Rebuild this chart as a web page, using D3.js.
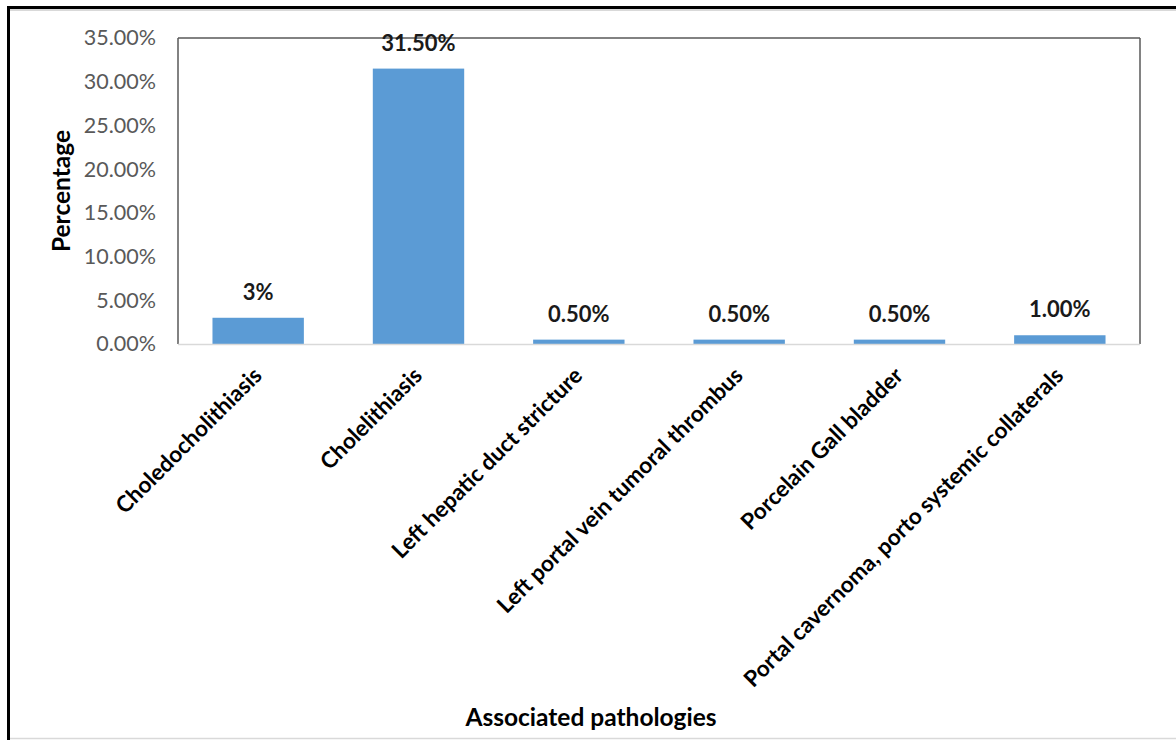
<!DOCTYPE html>
<html>
<head>
<meta charset="utf-8">
<script src="https://cdn.jsdelivr.net/npm/d3@7"></script>
<style>
  html, body { margin: 0; padding: 0; background: #fff; }
  svg { display: block; }
</style>
</head>
<body>
<svg id="chart" width="1176" height="740"></svg>
<script>
const categories = [
  "Choledocholithiasis",
  "Cholelithiasis",
  "Left hepatic duct stricture",
  "Left portal vein tumoral thrombus",
  "Porcelain Gall bladder",
  "Portal cavernoma, porto systemic collaterals"
];
const values = [3.0, 31.5, 0.5, 0.5, 0.5, 1.0];
const valueLabels = ["3%", "31.50%", "0.50%", "0.50%", "0.50%", "1.00%"];
const yTicks = [0, 5, 10, 15, 20, 25, 30, 35];
const yTitle = "Percentage";
const xTitle = "Associated pathologies";

const svg = d3.select("#chart");
const W = 1176, H = 740;
const plot = { left: 178, right: 1140, top: 38, bottom: 344 };

// outer frame
svg.append("line").attr("x1", 8).attr("x2", W).attr("y1", 10).attr("y2", 10)
  .attr("stroke", "#d9d9d9").attr("stroke-width", 2);
svg.append("line").attr("x1", 8).attr("x2", W).attr("y1", 738.5).attr("y2", 738.5)
  .attr("stroke", "#d9d9d9").attr("stroke-width", 1.5);
svg.append("line").attr("x1", 7).attr("x2", W).attr("y1", 7.5).attr("y2", 7.5)
  .attr("stroke", "#000").attr("stroke-width", 3);
svg.append("line").attr("x1", 8.5).attr("x2", 8.5).attr("y1", 6).attr("y2", H)
  .attr("stroke", "#000").attr("stroke-width", 3);

const x = d3.scaleBand().domain(categories).range([plot.left, plot.right]).paddingInner(0.43).paddingOuter(0.215);
const y = d3.scaleLinear().domain([0, 35]).range([plot.bottom, plot.top]);

// plot area frame (top, left, right)
const frame = svg.append("g").attr("stroke", "#595959").attr("stroke-width", 1.5);
frame.append("line").attr("x1", plot.left).attr("x2", plot.right).attr("y1", plot.top).attr("y2", plot.top);
frame.append("line").attr("x1", plot.left).attr("x2", plot.left).attr("y1", plot.top).attr("y2", plot.bottom);
frame.append("line").attr("x1", plot.right).attr("x2", plot.right).attr("y1", plot.top).attr("y2", plot.bottom);

// bars
svg.append("g").selectAll("rect").data(categories).join("rect")
  .attr("x", d => x(d))
  .attr("width", x.bandwidth())
  .attr("y", (d, i) => y(values[i]))
  .attr("height", (d, i) => y(0) - y(values[i]))
  .attr("fill", "#5b9bd5");

// x axis line
svg.append("line").attr("x1", plot.left).attr("x2", plot.right)
  .attr("y1", plot.bottom + 0.5).attr("y2", plot.bottom + 0.5)
  .attr("stroke", "#d9d9d9").attr("stroke-width", 1.5);

// y axis tick labels
const yAxis = d3.axisLeft(y).tickValues(yTicks).tickSize(0).tickPadding(0)
  .tickFormat(d => d.toFixed(2) + "%");
const gy = svg.append("g").attr("transform", `translate(156,0)`).call(yAxis);
gy.select(".domain").remove();
gy.selectAll("text")
  .attr("font-family", "Lato, sans-serif")
  .attr("font-size", 21.5)
  .attr("fill", "#595959");

// data labels
svg.append("g").selectAll("text").data(categories).join("text")
  .attr("x", d => x(d) + x.bandwidth() / 2)
  .attr("y", (d, i) => y(values[i]) - 18)
  .attr("text-anchor", "middle")
  .attr("font-family", "Lato, sans-serif")
  .attr("font-weight", "bold")
  .attr("font-size", 22)
  .attr("fill", "#1a1a1a")
  .text((d, i) => valueLabels[i]);

// x category labels
svg.append("g").selectAll("text").data(categories).join("text")
  .attr("transform", d => `translate(${x(d) + x.bandwidth() / 2 + 5},${plot.bottom + 33}) rotate(-45)`)
  .attr("text-anchor", "end")
  .attr("font-family", "Lato, sans-serif")
  .attr("font-weight", "bold")
  .attr("font-size", 22.5)
  .attr("fill", "#000")
  .text(d => d);

// axis titles
svg.append("text")
  .attr("transform", `translate(70,${(plot.top + plot.bottom) / 2}) rotate(-90)`)
  .attr("text-anchor", "middle")
  .attr("font-family", "Lato, sans-serif")
  .attr("font-weight", "bold")
  .attr("font-size", 24.5)
  .attr("fill", "#000")
  .text(yTitle);

svg.append("text")
  .attr("x", 591).attr("y", 726)
  .attr("text-anchor", "middle")
  .attr("font-family", "Lato, sans-serif")
  .attr("font-weight", "bold")
  .attr("font-size", 24.5)
  .attr("fill", "#000")
  .text(xTitle);
</script>
</body>
</html>
